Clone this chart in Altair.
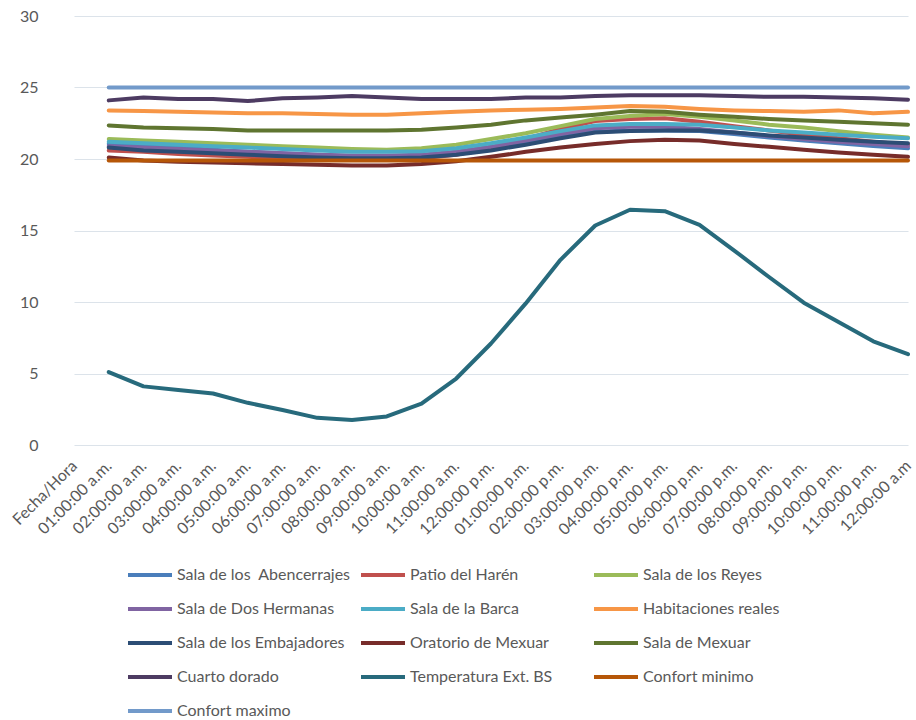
import altair as alt
import pandas as pd

# Hour categories on the x axis (first one is the header cell, no data)
categories = [
    "Fecha/Hora",
    "01:00:00 a.m.", "02:00:00 a.m.", "03:00:00 a.m.", "04:00:00 a.m.",
    "05:00:00 a.m.", "06:00:00 a.m.", "07:00:00 a.m.", "08:00:00 a.m.",
    "09:00:00 a.m.", "10:00:00 a.m.", "11:00:00 a.m.", "12:00:00 p.m.",
    "01:00:00 p.m.", "02:00:00 p.m.", "03:00:00 p.m.", "04:00:00 p.m.",
    "05:00:00 p.m.", "06:00:00 p.m.", "07:00:00 p.m.", "08:00:00 p.m.",
    "09:00:00 p.m.", "10:00:00 p.m.", "11:00:00 p.m.", "12:00:00 a.m",
]
hours = categories[1:]

# non-breaking space keeps the double gap of the original room name
series_names = [
    "Sala de los\u00a0 Abencerrajes", "Patio del Harén", "Sala de los Reyes",
    "Sala de Dos Hermanas", "Sala de la Barca", "Habitaciones reales",
    "Sala de los Embajadores", "Oratorio de Mexuar", "Sala de Mexuar",
    "Cuarto dorado", "Temperatura Ext. BS", "Confort minimo", "Confort maximo",
]
series_colors = [
    "#4A7EBB", "#C0504D", "#9BBB59",
    "#8064A2", "#4BACC6", "#F79646",
    "#2C4D75", "#772C2A", "#5F7530",
    "#4D3B62", "#276A7C", "#B65708", "#729ACA",
]

abencerrajes = [21.05, 20.9, 20.8, 20.65, 20.5, 20.4, 20.3, 20.2, 20.2, 20.25, 20.45, 20.8,
                21.2, 21.6, 21.9, 22.0, 22.0, 21.95, 21.75, 21.5, 21.3, 21.1, 20.9, 20.75]
patio_haren = [20.6, 20.5, 20.35, 20.25, 20.15, 20.05, 20.0, 19.95, 19.95, 20.05, 20.3, 20.8,
               21.4, 22.1, 22.65, 22.8, 22.85, 22.6, 22.3, 22.0, 21.7, 21.45, 21.2, 21.0]
sala_reyes = [21.4, 21.3, 21.2, 21.1, 21.0, 20.9, 20.8, 20.7, 20.65, 20.75, 21.0, 21.4,
              21.8, 22.3, 22.8, 23.0, 23.15, 22.95, 22.7, 22.4, 22.2, 21.95, 21.7, 21.5]
dos_hermanas = [20.9, 20.8, 20.7, 20.6, 20.5, 20.4, 20.3, 20.25, 20.25, 20.3, 20.5, 20.85,
                21.3, 21.75, 22.15, 22.25, 22.25, 22.1, 21.85, 21.6, 21.4, 21.2, 21.05, 20.9]
sala_barca = [21.2, 21.1, 21.0, 20.9, 20.8, 20.7, 20.6, 20.5, 20.5, 20.55, 20.75, 21.1,
              21.5, 21.95, 22.35, 22.45, 22.45, 22.4, 22.2, 22.0, 21.85, 21.7, 21.55, 21.45]
habitaciones = [23.4, 23.35, 23.3, 23.25, 23.2, 23.2, 23.15, 23.1, 23.1, 23.2, 23.3, 23.4,
                23.45, 23.5, 23.6, 23.7, 23.65, 23.5, 23.4, 23.35, 23.3, 23.4, 23.2, 23.3]
embajadores = [20.8, 20.6, 20.5, 20.4, 20.3, 20.2, 20.1, 20.05, 20.05, 20.1, 20.3, 20.6,
               21.0, 21.45, 21.85, 21.95, 22.0, 22.0, 21.85, 21.65, 21.5, 21.35, 21.2, 21.1]
oratorio = [20.1, 19.9, 19.8, 19.75, 19.7, 19.65, 19.6, 19.55, 19.55, 19.65, 19.85, 20.15,
            20.5, 20.8, 21.05, 21.25, 21.35, 21.3, 21.05, 20.85, 20.65, 20.45, 20.3, 20.15]
sala_mexuar = [22.35, 22.2, 22.15, 22.1, 22.0, 22.0, 22.0, 22.0, 22.0, 22.05, 22.2, 22.4,
               22.7, 22.9, 23.1, 23.35, 23.3, 23.1, 22.95, 22.8, 22.7, 22.6, 22.5, 22.4]
cuarto_dorado = [24.1, 24.3, 24.2, 24.2, 24.05, 24.25, 24.3, 24.4, 24.3, 24.2, 24.2, 24.2,
                 24.3, 24.3, 24.4, 24.45, 24.45, 24.45, 24.4, 24.35, 24.35, 24.3, 24.25, 24.15]
temperatura_ext = [5.1, 4.1, 3.85, 3.6, 2.95, 2.45, 1.9, 1.75, 2.0, 2.9, 4.65, 7.1,
                   9.9, 12.95, 15.35, 16.45, 16.35, 15.4, 13.6, 11.75, 9.95, 8.6, 7.25, 6.35]
confort_minimo = [19.9] * 24
confort_maximo = [25.0] * 24

series_values = [
    abencerrajes, patio_haren, sala_reyes, dos_hermanas, sala_barca, habitaciones,
    embajadores, oratorio, sala_mexuar, cuarto_dorado, temperatura_ext,
    confort_minimo, confort_maximo,
]

rows = []
for order, (name, values) in enumerate(zip(series_names, series_values)):
    for hour, value in zip(hours, values):
        rows.append({"hora": hour, "serie": name, "temp": value, "orden": order})
df = pd.DataFrame(rows)

FONT = "Lato"
GREY = "#595959"

chart = (
    alt.Chart(df)
    .mark_line(strokeWidth=4, strokeCap="round", strokeJoin="round")
    .encode(
        x=alt.X(
            "hora:N",
            scale=alt.Scale(type="point", domain=categories, range=[18, 852], padding=0),
            axis=alt.Axis(
                title=None,
                labelAngle=-45,
                labelAlign="right",
                labelBaseline="middle",
                labelFont=FONT,
                labelFontSize=16,
                labelColor=GREY,
                labelPadding=18,
                labelOverlap=False,
                ticks=False,
                domain=False,
                grid=False,
            ),
        ),
        y=alt.Y(
            "temp:Q",
            scale=alt.Scale(domain=[0, 30], nice=False),
            axis=alt.Axis(
                title=None,
                values=[0, 5, 10, 15, 20, 25, 30],
                labelFont=FONT,
                labelFontSize=16,
                labelColor=GREY,
                labelPadding=18,
                ticks=False,
                domain=False,
                gridColor="#DCE3EA",
                gridWidth=1.2,
            ),
        ),
        color=alt.Color(
            "serie:N",
            scale=alt.Scale(domain=series_names, range=series_colors),
            legend=alt.Legend(
                title=None,
                orient="none",
                legendX=70,
                legendY=535,
                columns=3,
                direction="horizontal",
                gridAlign="all",
                columnPadding=2,
                rowPadding=2,
                symbolType="stroke",
                symbolSize=1936,
                symbolStrokeWidth=4,
                labelFont=FONT,
                labelFontSize=16,
                labelColor=GREY,
                labelOffset=3,
                labelLimit=400,
            ),
        ),
        order=alt.Order("orden:Q"),
    )
    .properties(
        width=860,
        height=429,
        background="white",
        autosize=alt.AutoSizeParams(type="none"),
        padding={"left": 56, "top": 16, "right": 0, "bottom": 275},
    )
    .configure_view(stroke=None, strokeWidth=0)
)

chart.save("out.html", embed_options={"renderer": "svg", "actions": False})
